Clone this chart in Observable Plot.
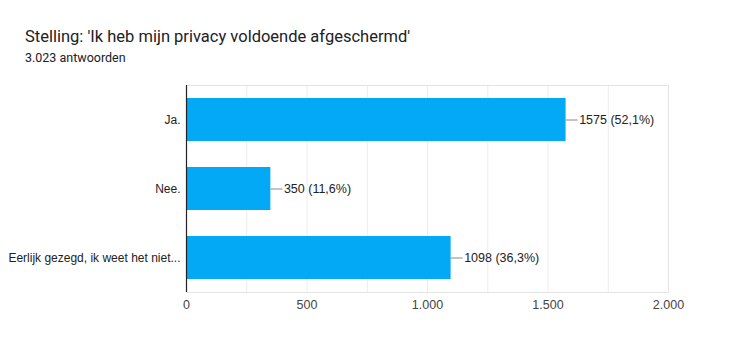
<!DOCTYPE html>
<html>
<head>
<meta charset="utf-8">
<script src="https://cdn.jsdelivr.net/npm/d3@7"></script>
<script src="https://cdn.jsdelivr.net/npm/@observablehq/plot@0.6"></script>
<style>
  html, body { margin: 0; padding: 0; background: #fff; }
  #wrap { position: relative; width: 744px; height: 354px; overflow: hidden; }
  #title { position: absolute; left: 25px; top: 27px; font-family: Roboto, "Liberation Sans", sans-serif; font-size: 16.5px; color: #202124; white-space: nowrap; }
  #subtitle { position: absolute; left: 25px; top: 50px; font-family: Roboto, "Liberation Sans", sans-serif; font-size: 12.5px; color: #202124; white-space: nowrap; }
  #chart { position: absolute; left: 0; top: 70px; }
</style>
</head>
<body>
<div id="wrap">
  <div id="title">Stelling: 'Ik heb mijn privacy voldoende afgeschermd'</div>
  <div id="subtitle">3.023 antwoorden</div>
  <div id="chart"></div>
</div>
<script>
const categories = ["Ja.", "Nee.", "Eerlijk gezegd, ik weet het niet..."];
const counts = [1575, 350, 1098];
const percents = ["52,1", "11,6", "36,3"];
const xTicks = [0, 500, 1000, 1500, 2000];
const gridTicks = [0, 250, 500, 750, 1000, 1250, 1500, 1750, 2000];

const data = categories.map((c, i) => ({label: c, value: counts[i], pct: percents[i]}));
const nl = d3.formatLocale({decimal: ",", thousands: ".", grouping: [3], currency: ["€", ""]});
const fmt = nl.format(",");

const chart = Plot.plot({
  width: 744,
  height: 284,
  marginTop: 15,
  marginBottom: 62,
  marginLeft: 186,
  marginRight: 76,
  style: {fontFamily: "'Liberation Sans', Arial, sans-serif", fontSize: "12px", color: "#222"},
  x: {domain: [0, 2000], ticks: xTicks, tickFormat: fmt, label: null},
  y: {domain: categories, paddingInner: 0.38, paddingOuter: 0.19, label: null},
  marks: [
    Plot.gridX(gridTicks, {stroke: "#ececec", strokeOpacity: 1}),
    Plot.frame({stroke: "#e4e4e4"}),
    Plot.barX(data, {y: "label", x: "value", fill: "#03a9f4"}),
    Plot.ruleY(data, {y: "label", x1: "value", x2: d => d.value + 50, stroke: "#888", strokeWidth: 1}),
    Plot.text(data, {y: "label", x: d => d.value + 50, text: d => `${d.value} (${d.pct}%)`, textAnchor: "start", dx: 1, fill: "#222", fontSize: 12.5}),
    Plot.ruleX([0], {stroke: "#222", strokeWidth: 1.2}),
    Plot.axisX({ticks: xTicks, tickFormat: fmt, tickSize: 0, tickPadding: 8, fill: "#444", fontSize: 12.5}),
    Plot.axisY({tickSize: 0, tickPadding: 6, fill: "#222", fontSize: 12})
  ]
});
document.getElementById("chart").appendChild(chart);
</script>
</body>
</html>
